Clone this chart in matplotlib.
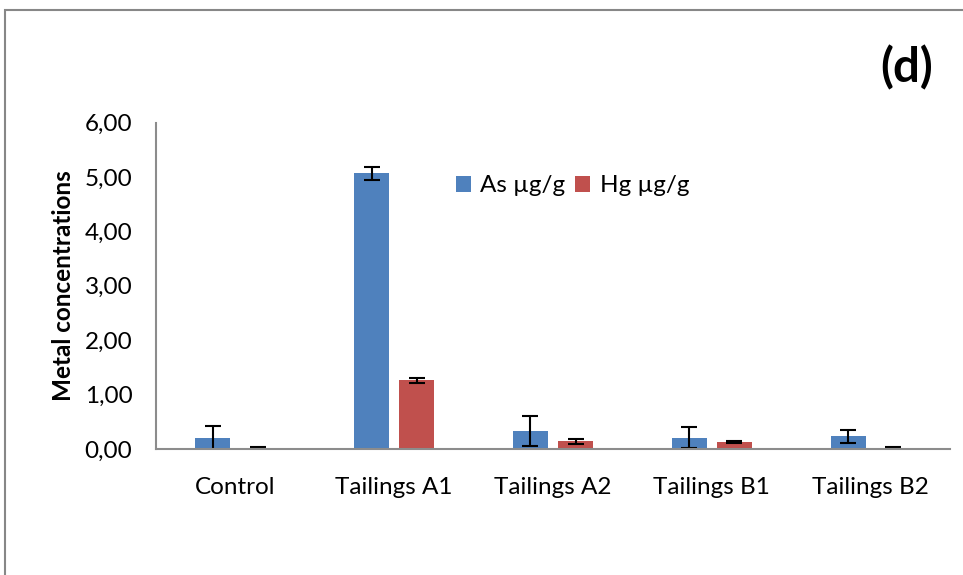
import numpy as np
import matplotlib.pyplot as plt
from matplotlib.patches import Rectangle

# data
sites = ["Control", "Tailings A1", "Tailings A2", "Tailings B1", "Tailings B2"]
as_mean = [0.20, 5.07, 0.33, 0.21, 0.23]
as_err = [0.23, 0.12, 0.28, 0.19, 0.12]
hg_mean = [0.02, 1.26, 0.14, 0.13, 0.02]
hg_err = [0.02, 0.04, 0.045, 0.015, 0.01]
yticks = [0, 1, 2, 3, 4, 5, 6]

plt.rcParams['font.family'] = ['Lato', 'DejaVu Sans']

W, H = 963, 575
fig = plt.figure(figsize=(W / 100, H / 100), dpi=100)

# chart area border (continues past right and bottom edge)
fig.patches.append(Rectangle((5 / W, -0.1), 1.2, 1 - 9.5 / H + 0.1,
                             transform=fig.transFigure, fill=False,
                             edgecolor='#878787', linewidth=1.5))

ax = fig.add_axes([156 / W, 1 - 449 / H, (950 - 156) / W, (449 - 122.5) / H])

x = np.arange(len(sites))
w = 0.22
off = 0.142
ekw = dict(ecolor='black', elinewidth=1.5, capsize=6, capthick=1.5)
ax.bar(x - off, as_mean, w, yerr=as_err, color='#4F81BD', label='As µg/g',
       error_kw=ekw)
ax.bar(x + off, hg_mean, w, yerr=hg_err, color='#C0504D', label='Hg µg/g',
       error_kw=ekw)

ax.set_xlim(-0.5, len(sites) - 0.5)
ax.set_ylim(0, 6)
ax.set_yticks(yticks)
ax.set_yticklabels([f"{v:.2f}".replace('.', ',') for v in yticks])
ax.set_xticks(x)
ax.set_xticklabels(sites)
ax.tick_params(axis='both', length=0, labelsize=17.5, colors='black')
ax.tick_params(axis='y', pad=17)
ax.tick_params(axis='x', pad=20)

for s in ['top', 'right']:
    ax.spines[s].set_visible(False)
for s in ['left', 'bottom']:
    ax.spines[s].set_color('#8c8c8c')
    ax.spines[s].set_linewidth(1.5)

ax.set_ylabel('Metal concentrations', fontsize=17.5, fontweight='bold', labelpad=7)

ax.legend(loc='center left', bbox_to_anchor=(444 / W, 1 - 186 / H),
          bbox_transform=fig.transFigure, ncol=2, frameon=False,
          fontsize=17.5, handlelength=0.6, handleheight=0.6, handletextpad=0.4,
          columnspacing=0.4, borderpad=0)

fig.text(907 / W, 1 - 68 / H, '(d)', fontsize=34, fontweight='bold',
         ha='center', va='center')

fig.savefig('out.png', dpi=100)
